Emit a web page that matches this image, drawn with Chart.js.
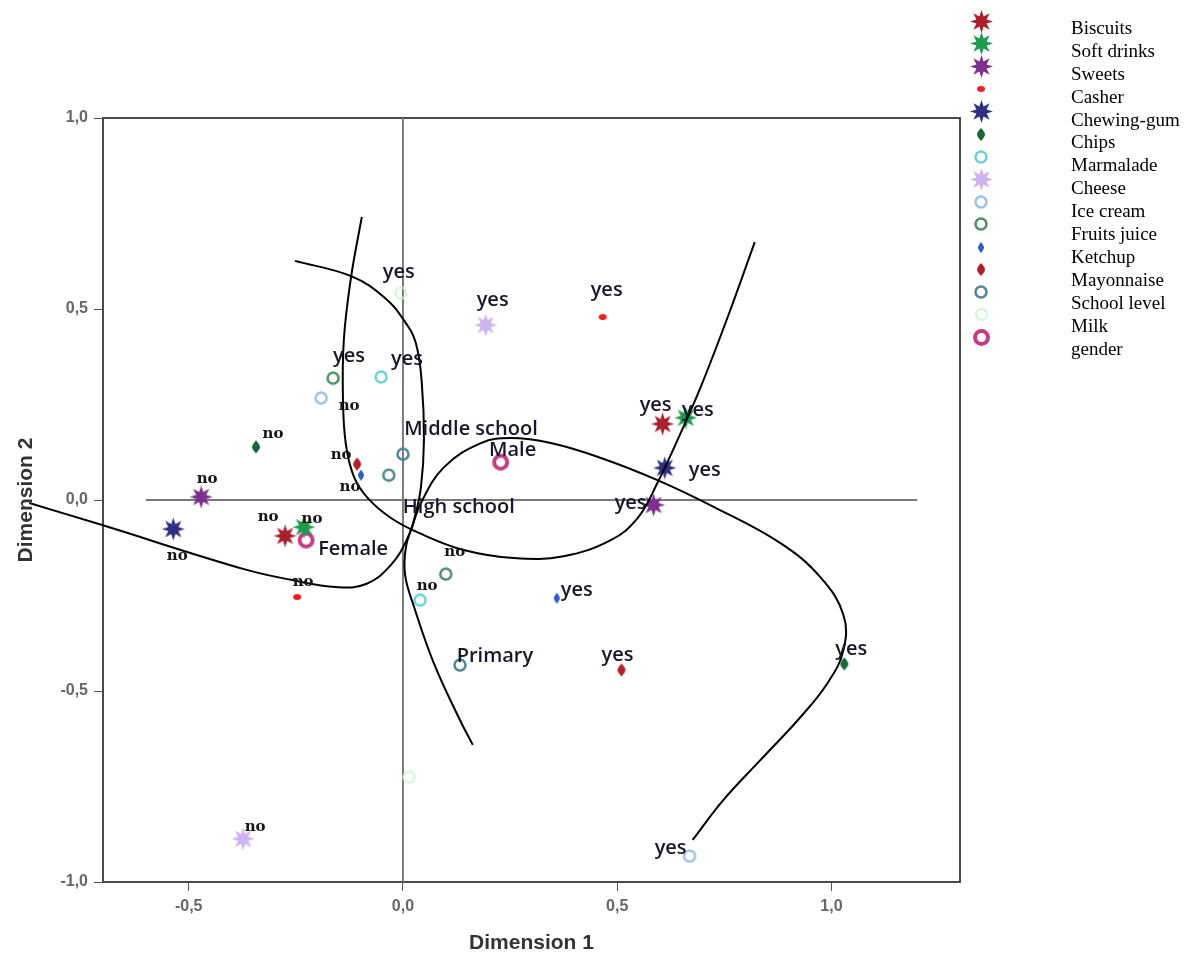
<!DOCTYPE html>
<html>
<head>
<meta charset="UTF-8">
<title>Dimension 1 / Dimension 2</title>
<script src="https://cdn.jsdelivr.net/npm/chart.js"></script>
<style>
  body { margin: 0; background: #fff; }
  canvas { display: block; }
</style>
</head>
<body>
<canvas id="mapChart" width="1188" height="960"></canvas>
<script>
// variables shown on the map, in legend order
const categories = ['Biscuits', 'Soft drinks', 'Sweets', 'Casher', 'Chewing-gum', 'Chips', 'Marmalade',
  'Cheese', 'Ice cream', 'Fruits juice', 'Ketchup', 'Mayonnaise', 'School level', 'Milk', 'gender'];

// modality names for each variable
const pointLabels = [
  ['yes', 'no'], ['yes', 'no'], ['yes', 'no'], ['yes', 'no'], ['yes', 'no'], ['yes', 'no'], ['yes', 'no'],
  ['yes', 'no'], ['yes', 'no'], ['yes', 'no'], ['yes', 'no'], ['yes', 'no'],
  ['Middle school', 'High school', 'Primary'], ['yes', ''], ['Male', 'Female']
];

// coordinates on dimension 1
const dim1 = [
  [0.606, -0.275], [0.660, -0.231], [0.585, -0.471], [0.466, -0.247], [0.611, -0.536], [1.030, -0.343],
  [-0.051, 0.040], [0.193, -0.373], [0.669, -0.191], [-0.163, 0.100], [0.359, -0.098], [0.510, -0.107],
  [0.000, -0.033, 0.133], [-0.005, 0.014], [0.228, -0.226]
];

// coordinates on dimension 2
const dim2 = [
  [0.199, -0.094], [0.215, -0.071], [-0.013, 0.008], [0.479, -0.254], [0.084, -0.076], [-0.429, 0.139],
  [0.322, -0.262], [0.458, -0.887], [-0.932, 0.267], [0.319, -0.194], [-0.257, 0.065], [-0.445, 0.094],
  [0.120, 0.065, -0.432], [0.542, -0.725], [0.099, -0.105]
];

// hand-drawn grouping curves (dimension 1 / dimension 2)
const curveAx = [-0.872, -0.704, -0.371, -0.261, -0.156, -0.086, -0.028, 0.012, 0.042, 0.096, 0.182, 0.252,
  0.345, 0.462, 0.594, 0.725, 0.881, 0.974, 1.028, 1.028, 0.991, 0.928, 0.834, 0.748, 0.676];
const curveAy = [-0.008, -0.065, -0.181, -0.209, -0.228, -0.220, -0.170, -0.097, -0.008, 0.086, 0.149, 0.162,
  0.149, 0.110, 0.052, -0.018, -0.113, -0.202, -0.301, -0.393, -0.479, -0.568, -0.681, -0.785, -0.890];
const curveBx = [-0.252, -0.121, -0.044, 0.002, 0.030, 0.044, 0.049, 0.042, 0.026, 0.007, 0.005, 0.026,
  0.072, 0.133, 0.163];
const curveBy = [0.626, 0.586, 0.531, 0.471, 0.411, 0.306, 0.157, 0.034, -0.052, -0.123, -0.196, -0.280,
  -0.427, -0.576, -0.641];
const curveCx = [-0.096, -0.121, -0.138, -0.140, -0.133, -0.114, -0.082, -0.028, 0.037, 0.142, 0.259, 0.375,
  0.485, 0.548, 0.594, 0.648, 0.695, 0.758, 0.821];
const curveCy = [0.741, 0.584, 0.419, 0.262, 0.144, 0.060, 0.005, -0.047, -0.086, -0.131, -0.152, -0.147,
  -0.105, -0.047, 0.045, 0.175, 0.296, 0.479, 0.675];

// axes
const xRange = [-0.7, 1.3];
const yRange = [-1.0, 1.0];
const xTicks = [-0.5, 0.0, 0.5, 1.0];
const yTicks = [-1.0, -0.5, 0.0, 0.5, 1.0];
const originLineX = [-0.6, 1.2];

// label placement around each point (px)
const labelOffsets = [
  [[-7, -19], [-17, -19]], [[12, -8], [8, -8]], [[-23, -2], [6, -18]], [[4, -27], [6, -15]],
  [[40, 2], [4, 27]], [[7, -15], [17, -13]], [[26, -18], [7, -14]], [[7, -25], [12, -12]],
  [[-19, -8], [28, 8]], [[16, -22], [9, -22]], [[20, -8], [-11, 12]], [[-4, -15], [-16, -9]],
  [[68, -25], [70, 32], [35, -9]], [[-2, -21], [0, 0]], [[12, -12], [47, 9]]
];

function makeCanvas(w, h) {
  const c = document.createElement('canvas');
  c.width = w; c.height = h;
  return c;
}

function starImage(color) {
  const outer = 11.5, inner = 5.5, spikes = 8;
  const c = makeCanvas(27, 27);
  const g = c.getContext('2d');
  g.translate(13.5, 13.5);
  g.beginPath();
  for (let k = 0; k < spikes * 2; k++) {
    const r = k % 2 ? inner : outer;
    const a = -Math.PI / 2 + k * Math.PI / spikes;
    g.lineTo(r * Math.cos(a), r * Math.sin(a));
  }
  g.closePath();
  g.fillStyle = color;
  g.fill();
  return c;
}

function ringImage(color, r, w) {
  const size = Math.ceil(2 * r + w + 4);
  const c = makeCanvas(size, size);
  const g = c.getContext('2d');
  g.beginPath();
  g.arc(size / 2, size / 2, r, 0, Math.PI * 2);
  g.lineWidth = w;
  g.strokeStyle = color;
  g.stroke();
  return c;
}

function diamondImage(color, w, h) {
  const c = makeCanvas(w + 2, h + 2);
  const g = c.getContext('2d');
  g.translate((w + 2) / 2, (h + 2) / 2);
  g.beginPath();
  g.moveTo(0, -h / 2);
  g.quadraticCurveTo(w / 2, -h / 6, w / 2, 0);
  g.quadraticCurveTo(w / 2, h / 6, 0, h / 2);
  g.quadraticCurveTo(-w / 2, h / 6, -w / 2, 0);
  g.quadraticCurveTo(-w / 2, -h / 6, 0, -h / 2);
  g.fillStyle = color;
  g.fill();
  return c;
}

function dotImage(color, w, h) {
  const c = makeCanvas(w + 2, h + 2);
  const g = c.getContext('2d');
  g.beginPath();
  g.ellipse((w + 2) / 2, (h + 2) / 2, w / 2, h / 2, 0, 0, Math.PI * 2);
  g.fillStyle = color;
  g.fill();
  return c;
}

const markerImages = [
  starImage('#a8202e'),
  starImage('#1f9a4f'),
  starImage('#7d2f8c'),
  dotImage('#f02020', 8, 6),
  starImage('#2e2f7e'),
  diamondImage('#1a6638', 8, 13),
  ringImage('#6fd2d0', 5.5, 2.5),
  starImage('#cdb3ef'),
  ringImage('#9dc0e6', 5.5, 2.5),
  ringImage('#4f8f6a', 5.5, 2.5),
  diamondImage('#2f5cc6', 6, 11),
  diamondImage('#b0202a', 8, 13),
  ringImage('#4f8598', 5.5, 2.5),
  ringImage('#d4f3d4', 5.5, 2),
  ringImage('#c23d86', 6.5, 4)
];

const pointSets = categories.map((name, i) => ({
  label: name,
  data: dim1[i].map((x, j) => ({ x: x, y: dim2[i][j] })),
  pointStyle: markerImages[i],
  order: 1
}));

function curveSet(xs, ys) {
  return {
    label: '',
    data: xs.map((x, j) => ({ x: x, y: ys[j] })),
    showLine: true,
    borderColor: '#000',
    borderWidth: 2,
    pointRadius: 0,
    tension: 0.4,
    clip: false,
    order: 0
  };
}

function refSet(points) {
  return {
    label: '',
    data: points,
    showLine: true,
    borderColor: '#7a7a7a',
    borderWidth: 2,
    pointRadius: 0,
    order: 2
  };
}

const fmt = v => v.toFixed(1).replace('.', ',');

const frameBox = {
  id: 'frameBox',
  beforeDatasetsDraw(chart) {
    const { ctx, chartArea: a } = chart;
    ctx.save();
    ctx.strokeStyle = '#4a4a4a';
    ctx.lineWidth = 2;
    ctx.strokeRect(a.left, a.top, a.right - a.left, a.bottom - a.top);
    ctx.restore();
  }
};

const pointText = {
  id: 'pointText',
  afterDatasetsDraw(chart) {
    const ctx = chart.ctx;
    ctx.save();
    ctx.textAlign = 'center';
    ctx.textBaseline = 'middle';
    categories.forEach((name, i) => {
      chart.getDatasetMeta(i).data.forEach((pt, j) => {
        const text = pointLabels[i][j];
        if (!text) return;
        const [dx, dy] = labelOffsets[i][j];
        if (text === 'no') {
          ctx.font = 'bold 15px "DejaVu Serif"';
          ctx.fillStyle = '#161616';
        } else {
          ctx.font = '600 20px "Open Sans"';
          ctx.fillStyle = '#17172a';
        }
        ctx.fillText(text, pt.x + dx, pt.y + dy);
      });
    });
    ctx.restore();
  }
};

const sideLegend = {
  id: 'sideLegend',
  afterDraw(chart) {
    const ctx = chart.ctx;
    ctx.save();
    ctx.font = '19px "Liberation Serif"';
    ctx.fillStyle = '#000';
    ctx.textBaseline = 'middle';
    categories.forEach((name, i) => {
      const img = markerImages[i];
      const my = 21 + i * 22.6;
      ctx.drawImage(img, Math.round(981 - img.width / 2), Math.round(my - img.height / 2));
      ctx.fillText(name, 1071, 29 + i * 22.9);
    });
    ctx.restore();
  }
};

const axisFont = { family: '"Liberation Sans Narrow", "Liberation Sans", sans-serif', size: 16, weight: 'bold' };
const titleFont = { family: '"Liberation Sans", sans-serif', size: 21, weight: 'bold' };

new Chart(document.getElementById('mapChart'), {
  type: 'scatter',
  data: {
    datasets: [
      ...pointSets,
      curveSet(curveAx, curveAy),
      curveSet(curveBx, curveBy),
      curveSet(curveCx, curveCy),
      refSet(originLineX.map(x => ({ x: x, y: 0 }))),
      refSet(yRange.map(y => ({ x: 0, y: y })))
    ]
  },
  options: {
    responsive: false,
    animation: false,
    layout: { padding: { left: 0, top: 118, right: 228, bottom: 0 } },
    elements: { line: { capBezierPoints: false } },
    plugins: {
      legend: { display: false },
      tooltip: { enabled: false }
    },
    scales: {
      x: {
        min: xRange[0],
        max: xRange[1],
        afterBuildTicks: s => { s.ticks = xTicks.map(v => ({ value: v })); },
        afterFit: s => { s.height = 78; },
        grid: { display: true, drawOnChartArea: false, drawTicks: true, tickLength: 9, color: '#555' },
        border: { display: false },
        ticks: { callback: fmt, color: '#666', font: axisFont, padding: 6, maxRotation: 0 },
        title: { display: true, text: 'Dimension 1', color: '#333', font: titleFont, padding: { top: 0, bottom: 4 } }
      },
      y: {
        min: yRange[0],
        max: yRange[1],
        afterBuildTicks: s => { s.ticks = yTicks.map(v => ({ value: v })); },
        afterFit: s => { s.width = 103; },
        grid: { display: true, drawOnChartArea: false, drawTicks: true, tickLength: 9, color: '#555' },
        border: { display: false },
        ticks: { callback: fmt, color: '#666', font: axisFont, padding: 6 },
        title: { display: true, text: 'Dimension 2', color: '#333', font: titleFont, padding: { top: 14, bottom: 0 } }
      }
    }
  },
  plugins: [frameBox, pointText, sideLegend]
});
</script>
</body>
</html>
